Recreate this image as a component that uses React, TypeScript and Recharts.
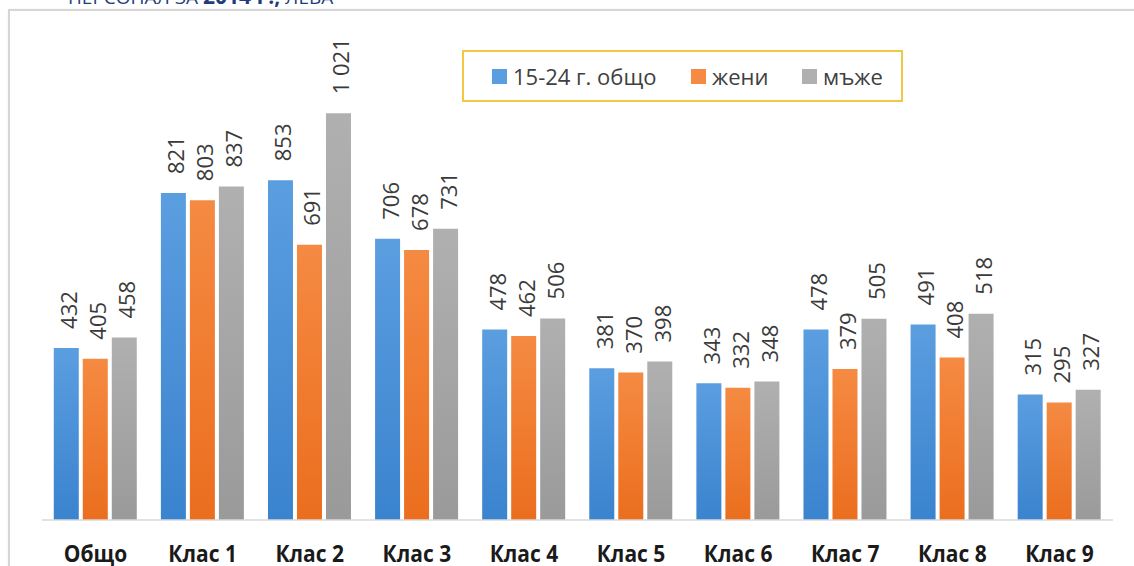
import React from "react";
import { BarChart, Bar, XAxis, YAxis, LabelList } from "recharts";

const categories = ["Общо", "Клас 1", "Клас 2", "Клас 3", "Клас 4", "Клас 5", "Клас 6", "Клас 7", "Клас 8", "Клас 9"];
const total = [432, 821, 853, 706, 478, 381, 343, 478, 491, 315];
const women = [405, 803, 691, 678, 462, 370, 332, 379, 408, 295];
const men = [458, 837, 1021, 731, 506, 398, 348, 505, 518, 327];
const seriesNames = ["15-24 г. общо", "жени", "мъже"];
const titleParts = ["ПЕРСОНАЛ ЗА ", "2014 Г.,", " ЛЕВА"];

const data = categories.map((c, i) => ({ name: c, total: total[i], women: women[i], men: men[i] }));

const colors = {
  total: ["#5B9EE0", "#3A83CE"],
  women: ["#F58A42", "#EB6E1E"],
  men: ["#B0B0B0", "#9A9A9A"],
};

const fmt = (v: number) =>
  v >= 1000 ? `${Math.floor(v / 1000)} ${String(v % 1000).padStart(3, "0")}` : String(v);

const renderLabel = (props: any) => {
  const { x, y, width, value } = props;
  const cx = Number(x) + Number(width) / 2 + 2;
  const ty = Number(y) - 19;
  return (
    <text
      x={cx}
      y={ty}
      transform={`rotate(-90, ${cx}, ${ty})`}
      textAnchor="start"
      dominantBaseline="central"
      fontSize={22}
      fontFamily="'Open Sans', sans-serif"
      fill="#3a3a3a"
    >
      {fmt(Number(value))}
    </text>
  );
};

const Tick = (props: any) => {
  const { x, y, payload } = props;
  const by = Number(y) + 34;
  return (
    <text
      x={0}
      y={0}
      transform={`translate(${x}, ${by}) scale(1, 1.12)`}
      textAnchor="middle"
      fontSize={21}
      fontWeight={700}
      fontFamily="'Open Sans', sans-serif"
      fill="#1a1a1a"
    >
      {payload.value}
    </text>
  );
};

const legendColors = [colors.total[0], colors.women[0], colors.men[0]];
const legendLefts = [28, 227, 338];

export default function App() {
  return (
    <div
      style={{
        position: "absolute",
        left: 0,
        top: 0,
        width: 1134,
        height: 566,
        overflow: "hidden",
        background: "#ffffff",
      }}
    >
      <div
        style={{
          position: "absolute",
          left: 68,
          top: -15,
          fontFamily: "'Open Sans', sans-serif",
          fontSize: 19,
          color: "#1F3D7A",
          whiteSpace: "nowrap",
          lineHeight: "22px",
        }}
      >
        {titleParts[0]}
        <span style={{ fontWeight: 700, fontSize: 21 }}>{titleParts[1]}</span>
        {titleParts[2]}
      </div>
      <div
        style={{
          position: "absolute",
          left: 8,
          top: 9,
          width: 1200,
          height: 620,
          border: "2px solid #d6d6d6",
          boxShadow: "1px 1px 3px rgba(0,0,0,0.12)",
          background: "#ffffff",
        }}
      />
      <div style={{ position: "absolute", left: 0, top: 0 }}>
        <BarChart
          width={1134}
          height={566}
          data={data}
          margin={{ top: 42, right: 21, bottom: 0, left: 42 }}
          barCategoryGap="11%"
          barGap={4}
        >
          <defs>
            {(["total", "women", "men"] as const).map((k) => (
              <linearGradient key={k} id={`g-${k}`} x1="0" y1="0" x2="0" y2="1">
                <stop offset="0%" stopColor={colors[k][0]} />
                <stop offset="100%" stopColor={colors[k][1]} />
              </linearGradient>
            ))}
          </defs>
          <XAxis
            dataKey="name"
            height={46}
            tickLine={false}
            axisLine={{ stroke: "#d9d9d9", strokeWidth: 1.5 }}
            tick={<Tick />}
            interval={0}
          />
          <YAxis hide domain={[0, 1200]} />
          <Bar dataKey="total" name={seriesNames[0]} fill="url(#g-total)" isAnimationActive={false}>
            <LabelList dataKey="total" content={renderLabel} />
          </Bar>
          <Bar dataKey="women" name={seriesNames[1]} fill="url(#g-women)" isAnimationActive={false}>
            <LabelList dataKey="women" content={renderLabel} />
          </Bar>
          <Bar dataKey="men" name={seriesNames[2]} fill="url(#g-men)" isAnimationActive={false}>
            <LabelList dataKey="men" content={renderLabel} />
          </Bar>
        </BarChart>
      </div>
      <div
        style={{
          position: "absolute",
          left: 462,
          top: 50,
          width: 437,
          height: 48,
          border: "2px solid #F2C744",
          background: "#ffffff",
          fontFamily: "'Open Sans', sans-serif",
          fontSize: 22,
          color: "#404040",
        }}
      >
        {seriesNames.map((n, i) => (
          <div
            key={n}
            style={{
              position: "absolute",
              left: legendLefts[i],
              top: 0,
              height: 48,
              display: "flex",
              alignItems: "center",
              whiteSpace: "nowrap",
            }}
          >
            <span
              style={{
                display: "inline-block",
                width: 15,
                height: 15,
                background: legendColors[i],
                marginRight: 6,
              }}
            />
            {n}
          </div>
        ))}
      </div>
    </div>
  );
}
